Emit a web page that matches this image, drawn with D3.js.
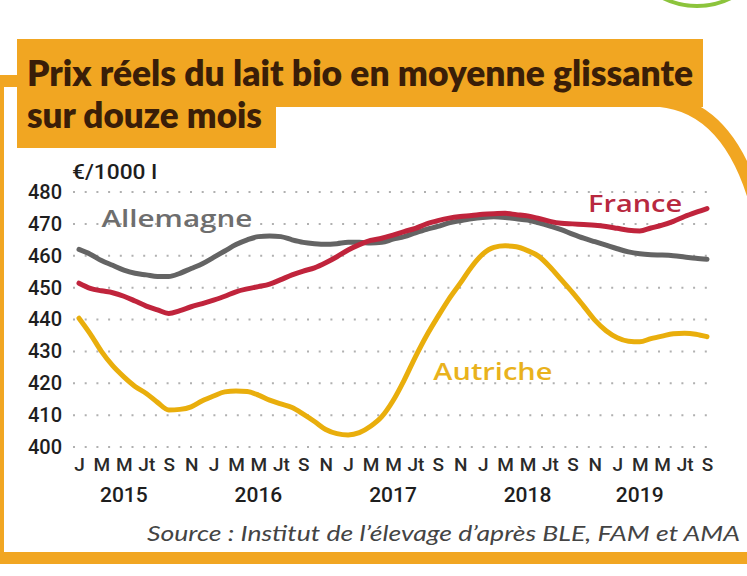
<!DOCTYPE html>
<html><head><meta charset="utf-8">
<script src="https://cdn.jsdelivr.net/npm/d3@7"></script>
<style>html,body{margin:0;padding:0;background:#fff;overflow:hidden} svg{display:block}</style>
</head><body>
<svg id="chart" width="747" height="576"></svg>
<script>
// ---- Data (monthly, Jan 2015 .. Sep 2019), €/1000 l ----
const monthTickLabels = ["J","M","M","Jt","S","N","J","M","M","Jt","S","N","J","M","M","Jt","S","N","J","M","M","Jt","S","N","J","M","M","Jt","S"];
const years = ["2015","2016","2017","2018","2019"];
const yearCenterMonth = [4,16,28,40,50];
const yTicks = [400,410,420,430,440,450,460,470,480];

const allemagne = [462,460.5,458.5,457,455.5,454.5,454,453.5,453.5,454.5,456,457.5,
  459.5,461.5,463.5,465,466,466.2,466,465,464.2,463.8,463.6,463.8,
  464.2,464.2,464,464.2,465.2,466,467.2,468.3,469.2,470.3,471,471.6,
  472,472.2,472,471.6,471.2,470.3,469.3,468.2,466.8,465.5,464.4,463.3,
  462.2,461.2,460.6,460.3,460.2,460,459.6,459.2,458.9];
const france = [451.4,449.8,449,448.4,447.3,445.8,444.2,443,441.9,442.8,444,445,
  446.1,447.3,448.7,449.6,450.3,451.1,452.5,454,455.2,456.2,457.8,459.7,
  461.8,463.5,464.8,465.5,466.5,467.6,468.6,470,471,471.8,472.3,472.6,
  473,473.2,473.3,472.9,472.5,471.7,470.8,470.2,470,469.8,469.6,469.2,
  468.6,468,467.8,468.7,469.6,470.8,472.3,473.6,474.8];
const autriche = [440.4,435.5,430,425.5,422,419,416.8,414,411.6,411.8,412.6,414.5,
  416,417.3,417.6,417.4,416.3,414.7,413.5,412.4,410.3,408,405.5,404.2,
  403.8,404.5,406.5,409.5,414.5,421,428.3,435,440.9,446.5,451.4,456.5,
  460.5,462.6,463.1,462.8,461.6,459.8,456.5,452.5,448.5,444.2,439.8,436.5,
  434.3,433.2,433,434,434.8,435.5,435.7,435.4,434.6];

const seriesNames = ["Allemagne","France","Autriche"];
const seriesColors = ["#646464","#c0243c","#e9ae0c"];
const labelColors = ["#6e6e6e","#b8283f","#e9b21c"];
const seriesData = [allemagne, france, autriche];

// ---- Drawing ----
const svg = d3.select("#chart");
const orange = "#f1a622";

// decorative frame
svg.append("path")
  .attr("d","M 30 81 H -2 V 558 H 770")
  .attr("fill","none").attr("stroke",orange).attr("stroke-width",12);
svg.append("path")
  .attr("d","M 650 100 Q 725 100 755 200 L 770 560")
  .attr("fill","none").attr("stroke",orange).attr("stroke-width",13);
// green ring top-right
svg.append("circle").attr("cx",697).attr("cy",-68).attr("r",74)
  .attr("fill","none").attr("stroke","#8cc43c").attr("stroke-width",4);

// title boxes
svg.append("rect").attr("x",17).attr("y",39).attr("width",686).attr("height",68).attr("fill",orange);
svg.append("rect").attr("x",17).attr("y",106).attr("width",259).attr("height",42).attr("fill",orange);
svg.append("text").attr("x",27).attr("y",86)
  .attr("font-family","Lato, 'Open Sans', sans-serif").attr("font-weight",800)
  .attr("font-size",35).attr("fill","#3a1e08")
  .attr("textLength",666).attr("lengthAdjust","spacingAndGlyphs")
  .text("Prix réels du lait bio en moyenne glissante");
svg.append("text").attr("x",27).attr("y",128)
  .attr("font-family","Lato, 'Open Sans', sans-serif").attr("font-weight",800)
  .attr("font-size",35).attr("fill","#3a1e08")
  .attr("textLength",235).attr("lengthAdjust","spacingAndGlyphs")
  .text("sur douze mois");

const x = d3.scaleLinear().domain([0,56]).range([79,707]);
const y = d3.scaleLinear().domain([400,480]).range([447,192]);

// gridlines
svg.append("g").selectAll("line").data(yTicks).join("line")
  .attr("x1",73).attr("x2",713)
  .attr("y1",d=>y(d)).attr("y2",d=>y(d))
  .attr("stroke","#b0b0b0").attr("stroke-width",2)
  .attr("stroke-dasharray","2 9.7");

const axisFont = "Roboto, 'DejaVu Sans Condensed', sans-serif";

// y axis labels
const yAxis = svg.append("g").attr("transform","translate(73,0)")
  .call(d3.axisLeft(y).tickValues(yTicks).tickSize(0).tickPadding(11).tickFormat(d3.format("d")));
yAxis.select(".domain").remove();
yAxis.selectAll("text").attr("font-family",axisFont).attr("font-weight",500)
  .attr("font-size",20).attr("fill","#1e1e1e");

// unit
svg.append("text").attr("x",72).attr("y",179)
  .attr("font-family",axisFont).attr("font-weight",500).attr("font-size",20).attr("fill","#1e1e1e")
  .attr("textLength",85).attr("lengthAdjust","spacingAndGlyphs")
  .text("€/1000 l");

// x axis month labels
const tickMonths = monthTickLabels.map((_,i)=>i*2);
const xAxis = svg.append("g").attr("transform","translate(0,447)")
  .call(d3.axisBottom(x).tickValues(tickMonths).tickSize(0).tickPadding(11)
    .tickFormat((d,i)=>monthTickLabels[i]));
xAxis.select(".domain").remove();
xAxis.selectAll("text").attr("font-family",axisFont).attr("font-weight",500)
  .attr("font-size",19).attr("fill","#2a2a2a");

// year labels
svg.append("g").selectAll("text").data(years).join("text")
  .attr("x",(d,i)=>x(yearCenterMonth[i])).attr("y",502)
  .attr("text-anchor","middle")
  .attr("font-family",axisFont).attr("font-weight",500)
  .attr("font-size",21).attr("fill","#1e1e1e")
  .text(d=>d);

// lines
const line = d3.line().x((d,i)=>x(i)).y(d=>y(d)).curve(d3.curveMonotoneX);
svg.append("g").selectAll("path").data(seriesData).join("path")
  .attr("d",line).attr("fill","none")
  .attr("stroke",(d,i)=>seriesColors[i]).attr("stroke-width",5)
  .attr("stroke-linecap","round").attr("stroke-linejoin","round");

// series labels
const labelPos = [ {m:2, v:468.9, w:151}, {m:45.4, v:473.8, w:94}, {m:31.6, v:421, w:119} ];
svg.append("g").selectAll("text").data(seriesNames).join("text")
  .attr("x",(d,i)=>x(labelPos[i].m)).attr("y",(d,i)=>y(labelPos[i].v))
  .attr("font-family","'Open Sans', Lato, sans-serif").attr("font-weight",600)
  .attr("font-size",23).attr("fill",(d,i)=>labelColors[i])
  .attr("textLength",(d,i)=>labelPos[i].w).attr("lengthAdjust","spacingAndGlyphs")
  .text(d=>d);

// source
svg.append("text").attr("x",147).attr("y",541)
  .attr("font-family","Lato, 'Open Sans', sans-serif").attr("font-style","italic")
  .attr("font-size",21).attr("fill","#444")
  .attr("textLength",593).attr("lengthAdjust","spacingAndGlyphs")
  .text("Source : Institut de l’élevage d’après BLE, FAM et AMA");
</script>
</body></html>
